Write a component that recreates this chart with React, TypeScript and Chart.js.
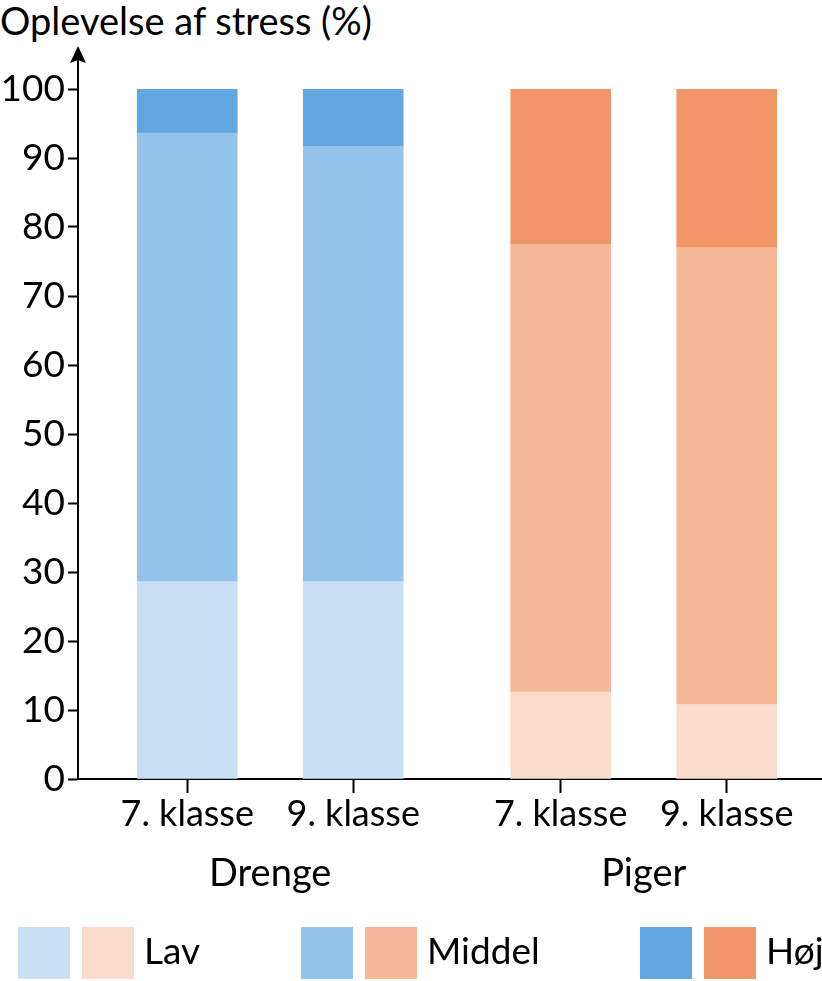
import React, { useEffect, useRef } from "react";
import { Chart, registerables } from "chart.js";

Chart.register(...registerables);

const TITLE = "Oplevelse af stress (%)";
const GROUPS = ["Drenge", "Piger"];
const CLASSES = ["7. klasse", "9. klasse"];
const LEVELS = ["Lav", "Middel", "Høj"];

// values per bar: Drenge 7, Drenge 9, Piger 7, Piger 9
const LAV = [28.6, 28.6, 12.6, 10.8];
const MIDDEL = [65.0, 63.1, 64.9, 66.2];
const HOJ = [6.4, 8.3, 22.5, 23.0];

const Y_TICKS = [0, 10, 20, 30, 40, 50, 60, 70, 80, 90, 100];

const BLUES = ["#C9E0F4", "#94C4EB", "#62A8E0"];
const ORANGES = ["#FADBCC", "#F4B898", "#F09668"];

const FONT = "Lato, 'Open Sans', sans-serif";
const GROUP_GAP = 0.25;

export default function App() {
  const ref = useRef<HTMLCanvasElement>(null);

  useEffect(() => {
    const canvas = ref.current;
    if (!canvas) return;

    const xs: number[] = [];
    const barLabels: string[] = [];
    const groupOf: number[] = [];
    GROUPS.forEach((_, g) => {
      CLASSES.forEach((c, i) => {
        xs.push(g * CLASSES.length + i + g * GROUP_GAP);
        barLabels.push(c);
        groupOf.push(g);
      });
    });

    const series = [LAV, MIDDEL, HOJ];
    const datasets = series.map((vals, s) => ({
      label: LEVELS[s],
      data: vals.map((v, i) => ({ x: xs[i], y: v })),
      backgroundColor: vals.map((_, i) => (groupOf[i] === 0 ? BLUES[s] : ORANGES[s])),
      borderWidth: 0,
      barThickness: 100,
    }));

    const extras = {
      id: "extras",
      afterDraw(chart: any) {
        const ctx = chart.ctx;
        const area = chart.chartArea;
        const xScale = chart.scales.x;
        ctx.save();
        const ax = area.left;
        ctx.strokeStyle = "#000";
        ctx.lineWidth = 2;
        ctx.beginPath();
        ctx.moveTo(ax, area.top + 1);
        ctx.lineTo(ax, 56);
        ctx.stroke();
        ctx.fillStyle = "#000";
        ctx.beginPath();
        ctx.moveTo(ax, 46);
        ctx.lineTo(ax - 8, 63);
        ctx.lineTo(ax, 60);
        ctx.lineTo(ax + 8, 63);
        ctx.closePath();
        ctx.fill();
        ctx.font = `38px ${FONT}`;
        ctx.textAlign = "center";
        ctx.textBaseline = "alphabetic";
        ctx.fillStyle = "#000";
        GROUPS.forEach((name, g) => {
          const idx = groupOf.map((gg, i) => (gg === g ? i : -1)).filter((i) => i >= 0);
          const mid = (xs[idx[0]] + xs[idx[idx.length - 1]]) / 2;
          ctx.fillText(name, xScale.getPixelForValue(mid), 886);
        });
        ctx.restore();
      },
    };

    const chart = new Chart(canvas, {
      type: "bar",
      data: { datasets: datasets as any },
      options: {
        animation: false,
        responsive: false,
        maintainAspectRatio: false,
        layout: { padding: { top: 89, left: 0, right: 0, bottom: 0 } },
        plugins: { legend: { display: false }, tooltip: { enabled: false } },
        scales: {
          x: {
            type: "linear",
            stacked: true,
            offset: false,
            min: -0.658,
            max: 3.824,
            afterFit: (s: any) => {
              s.height = 202;
            },
            afterBuildTicks: (s: any) => {
              s.ticks = xs.map((v) => ({ value: v }));
            },
            ticks: {
              autoSkip: false,
              maxRotation: 0,
              font: { family: FONT, size: 36 },
              color: "#000",
              padding: 0,
              callback: (_v: any, i: number) => barLabels[i],
            },
            grid: {
              offset: false,
              drawOnChartArea: false,
              drawTicks: true,
              tickLength: 14,
              tickColor: "#000",
              tickWidth: 2,
            },
            border: { display: true, color: "#000", width: 2 },
          },
          y: {
            stacked: true,
            min: 0,
            max: 100,
            afterFit: (s: any) => {
              s.width = 78;
            },
            afterBuildTicks: (s: any) => {
              s.ticks = Y_TICKS.map((v) => ({ value: v }));
            },
            ticks: {
              font: { family: FONT, size: 37 },
              color: "#000",
              padding: 3,
            },
            grid: {
              drawOnChartArea: false,
              drawTicks: true,
              tickLength: 10,
              tickColor: "#000",
              tickWidth: 2,
            },
            border: { display: true, color: "#000", width: 2 },
          },
        },
      },
      plugins: [extras],
    });
    return () => chart.destroy();
  }, []);

  const legendItems = [18, 301, 640];

  return (
    <div style={{ position: "absolute", left: 0, top: 0, width: 822, height: 981, background: "#fff", fontFamily: FONT, color: "#000" }}>
      <div style={{ position: "absolute", left: 0, top: -2, fontSize: 38, lineHeight: "44px", whiteSpace: "nowrap" }}>{TITLE}</div>
      <canvas ref={ref} width={822} height={981} style={{ position: "absolute", left: 0, top: 0 }} />
      {LEVELS.map((lvl, s) => (
        <div key={lvl}>
          <div style={{ position: "absolute", left: legendItems[s], top: 927, width: 52, height: 52, background: BLUES[s] }} />
          <div style={{ position: "absolute", left: legendItems[s] + 64, top: 927, width: 52, height: 52, background: ORANGES[s] }} />
          <div style={{ position: "absolute", left: legendItems[s] + 126, top: 924, height: 52, lineHeight: "52px", fontSize: 37, whiteSpace: "nowrap" }}>{lvl}</div>
        </div>
      ))}
    </div>
  );
}
